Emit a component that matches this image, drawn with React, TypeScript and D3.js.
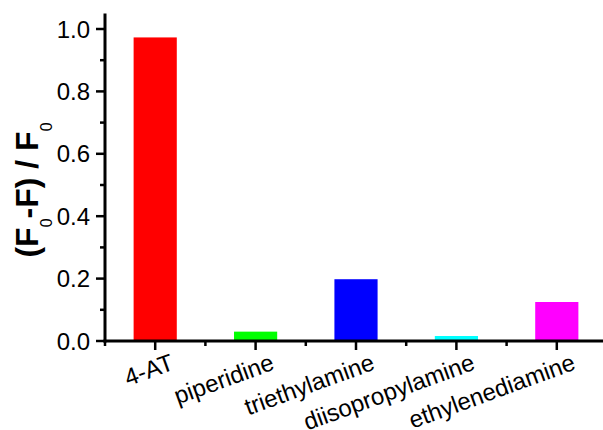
import React from "react";
import * as d3 from "d3";

const categories = ["4-AT", "piperidine", "triethylamine", "diisopropylamine", "ethylenediamine"];
const values = [0.973, 0.03, 0.198, 0.016, 0.125];
const colors = ["#ff0000", "#00ff00", "#0000ff", "#00ffff", "#ff00ff"];
const majorTicks = [0, 0.2, 0.4, 0.6, 0.8, 1.0];
const minorTicks = [0.1, 0.3, 0.5, 0.7, 0.9];

const W = 603;
const H = 430;
const x0 = 105;
const y0 = 341;

export default function App() {
  const x = d3.scaleBand<string>().domain(categories).range([x0, 607]).paddingInner(0).paddingOuter(0);
  const y = d3.scaleLinear().domain([0, 1.05]).range([y0, y0 - 1.05 * 312]);
  const bw = x.bandwidth() * 0.43;
  const fmt = d3.format(".1f");
  const font = "Arial, 'Liberation Sans', sans-serif";
  const boundaries = categories.map((c) => x(c) as number);

  return (
    <svg width={W} height={H} style={{ position: "absolute", left: 0, top: 0, background: "#fff" }} fontFamily={font}>
      {categories.map((c, i) => (
        <rect key={c} x={(x(c) as number) + x.bandwidth() / 2 - bw / 2} y={y(values[i])} width={bw} height={y(0) - y(values[i])} fill={colors[i]} />
      ))}
      {/* y axis */}
      <line x1={x0} x2={x0} y1={y(1.05)} y2={y0 + 1.5} stroke="#000" strokeWidth={3} />
      {majorTicks.map((t) => (
        <g key={t}>
          <line x1={x0 - 9} x2={x0} y1={y(t)} y2={y(t)} stroke="#000" strokeWidth={2.5} />
          <text x={90} y={y(t)} textAnchor="end" dominantBaseline="central" fontSize={24}>{fmt(t)}</text>
        </g>
      ))}
      {minorTicks.map((t) => (
        <line key={t} x1={x0 - 5} x2={x0} y1={y(t)} y2={y(t)} stroke="#000" strokeWidth={2.5} />
      ))}
      {/* x axis */}
      <line x1={x0 - 1.5} x2={W} y1={y0} y2={y0} stroke="#000" strokeWidth={3} />
      {boundaries.map((b) => (
        <line key={b} x1={b} x2={b} y1={y0} y2={y0 + 5} stroke="#000" strokeWidth={2.5} />
      ))}
      {categories.map((c) => {
        const cx = (x(c) as number) + x.bandwidth() / 2;
        return (
          <g key={c}>
            <line x1={cx} x2={cx} y1={y0} y2={y0 + 9} stroke="#000" strokeWidth={2.5} />
            <text transform={`translate(${cx + 20},${y0 + 28}) rotate(-20)`} textAnchor="end" fontSize={24}>{c}</text>
          </g>
        );
      })}
      {/* y title */}
      <text transform="translate(38,190) rotate(-90)" textAnchor="middle" fontSize={32} fontWeight="bold">
        <tspan>(F</tspan>
        <tspan fontSize={16} fontWeight="normal" dy={14}>0</tspan>
        <tspan dy={-14}>-F) / F</tspan>
        <tspan fontSize={16} fontWeight="normal" dy={14}>0</tspan>
      </text>
    </svg>
  );
}
